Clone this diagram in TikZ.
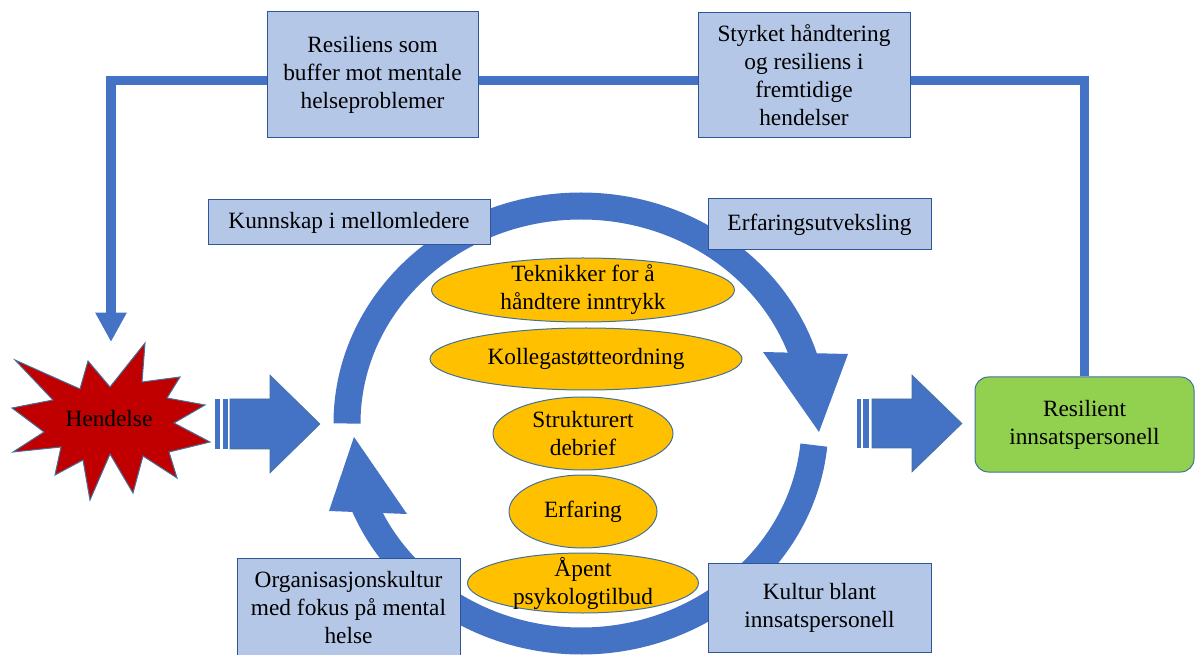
\documentclass[tikz,border=0pt]{standalone}
\usepackage{fontspec}
\setmainfont{Liberation Serif}
\usetikzlibrary{arrows.meta,shapes.geometric}

\definecolor{arcblue}{RGB}{68,114,196}
\definecolor{boxblue}{RGB}{180,199,231}
\definecolor{boxedge}{RGB}{47,85,151}
\definecolor{ovalgold}{RGB}{255,192,0}
\definecolor{edgegray}{RGB}{65,113,156}
\definecolor{starred}{RGB}{192,0,0}
\definecolor{resgreen}{RGB}{146,208,80}

\newcommand{\diagfont}{\fontsize{17.5}{21}\selectfont}

\tikzset{every picture/.style={line width=0.75pt}}
\tikzset{
  factbox/.style={draw=boxedge, fill=boxblue, align=center, inner sep=0.75pt, font=\diagfont},
  goalbox/.style={draw=edgegray, fill=resgreen, rounded corners=10pt, align=center, inner sep=0.75pt, font=\diagfont},
  oval/.style={ellipse, draw=edgegray, fill=ovalgold, inner sep=0pt},
  ovaltext/.style={align=center, inner sep=0pt, font=\diagfont},
  ring/.style={draw=arcblue, line width=20.25pt},
  feedback/.style={draw=arcblue, line width=7pt, -{Triangle[width=22pt,length=22pt]}},
  bigarrow/.style={fill=arcblue, draw=edgegray, line width=0.4pt},
}

\begin{document}
\begin{tikzpicture}[x=0.75pt,y=0.75pt,yscale=-1,xscale=1]
\path[use as bounding box] (0,0) rectangle (1195,655);

%Ring: upper arc, left to right
\draw[ring] (581,423.5) ++(180:234 and 217.5) arc[start angle=180, end angle=345, x radius=234, y radius=217.5];
\fill[arcblue] (763,352) -- (848,354) -- (819,432) -- cycle;
%Ring: lower arc, right to left
\draw[ring] (581,423.5) ++(5.7:234 and 217.5) arc[start angle=5.7, end angle=160, x radius=234, y radius=217.5];
\fill[arcblue] (329,511) -- (407,514) -- (354,437) -- cycle;

%Shape: Explosion
\draw[fill=starred, draw=edgegray] (15,360) -- (80,389) -- (88,361) -- (110,387) -- (145,343) -- (142,382) -- (180,377) -- (167,398) -- (205,405) -- (174,423) -- (210,442) -- (169,452) -- (177,478) -- (143,456) -- (133,493) -- (110,454) -- (90,500) -- (83,460) -- (55,475) -- (61,447) -- (13,452) -- (44,432) -- (12,408) -- (53,400) -- cycle;
% Text Node
\node[font=\diagfont, inner sep=0.75pt] (hendelse) at (109,419) {Hendelse};
\coordinate (hendtop) at (111,342);
\coordinate (bend) at (111,80.5);

%Block arrows
\fill[arcblue] (215,399) rectangle (220,449);
\fill[arcblue] (223,399) rectangle (228,449);
\draw[bigarrow] (230,399) -- (270,399) -- (270,375) -- (320,424) -- (270,473) -- (270,449) -- (230,449) -- cycle;
\fill[arcblue] (857,399) rectangle (861,448);
\fill[arcblue] (863,399) rectangle (869,448);
\draw[bigarrow] (872,399) -- (912,399) -- (912,375) -- (962,423.5) -- (912,472) -- (912,448) -- (872,448) -- cycle;

% Text Node
\node[goalbox, minimum width=164.25pt, minimum height=71.25pt] (resil) at (1084.5,424.5) {Resilient\\innsatspersonell};

%Feedback line
\draw[feedback] (resil.north) |- (bend) -- (hendtop);

% Text Node
\node[factbox, minimum width=158.25pt, minimum height=94.5pt] (buffer) at (372.5,75) {Resiliens som\\buffer mot mentale\\helseproblemer};
% Text Node
\node[factbox, minimum width=159pt, minimum height=93.75pt] (styrket) at (804,75.5) {Styrket håndtering\\og resiliens i\\fremtidige\\hendelser};
% Text Node
\node[factbox, minimum width=211.5pt, minimum height=33.75pt] (kunnskap) at (349,222.5) {Kunnskap i mellomledere};
% Text Node
\node[factbox, minimum width=167.25pt, minimum height=38.25pt] (utveksling) at (819.5,224.5) {Erfaringsutveksling};
% Text Node
\node[factbox, minimum width=167.25pt, minimum height=75pt] (orgkultur) at (348.5,608) {Organisasjonskultur\\med fokus på mental\\helse};
% Text Node
\node[factbox, minimum width=167.25pt, minimum height=66.75pt] (kultur) at (819.5,607.5) {Kultur blant\\innsatspersonell};

%Shape: Ellipses
\node[oval, minimum width=227.25pt, minimum height=48pt, label={[ovaltext]center:Teknikker for å\\håndtere inntrykk}] (teknikker) at (583,290) {};
\node[oval, minimum width=234pt, minimum height=46.5pt, label={[ovaltext]center:Kollegastøtteordning}] (kollega) at (586,359) {};
\node[oval, minimum width=135pt, minimum height=54.75pt, label={[ovaltext]center:Strukturert\\debrief}] (debrief) at (583,433.5) {};
\node[oval, minimum width=111pt, minimum height=54.75pt, label={[ovaltext]center:Erfaring}] (erfaring) at (583,511.5) {};
\node[oval, minimum width=173.25pt, minimum height=45pt, label={[ovaltext]center:Åpent\\psykologtilbud}] (psykolog) at (583,583) {};

\end{tikzpicture}
\end{document}
